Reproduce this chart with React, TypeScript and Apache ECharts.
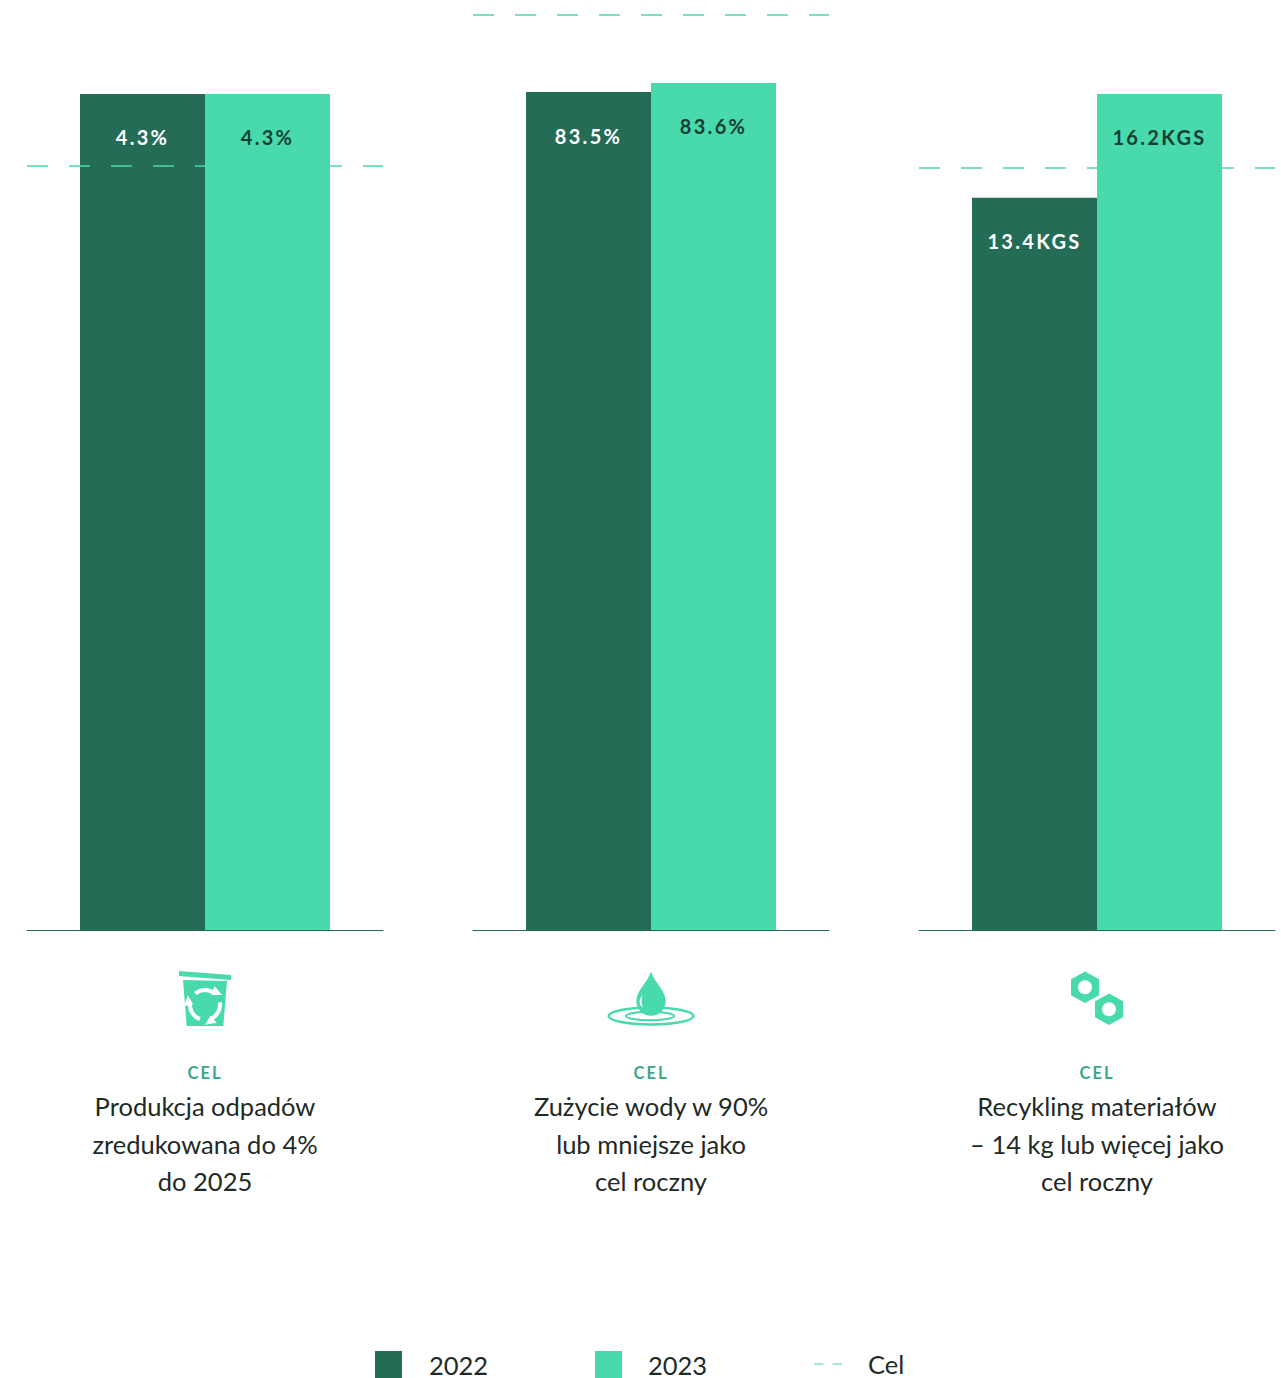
import React, { useEffect, useRef } from "react";
import * as echarts from "echarts";

const categories = ["Produkcja odpadów", "Zużycie wody", "Recykling materiałów"];
const values2022 = [4.3, 83.5, 13.4];
const values2023 = [4.3, 83.6, 16.2];
const targets = [4, 90, 14];
const units = ["%", "%", "KGS"];
const captionLabel = "CEL";
const captions = [
  ["Produkcja odpadów", "zredukowana do 4%", "do 2025"],
  ["Zużycie wody w 90%", "lub mniejsze jako", "cel roczny"],
  ["Recykling materiałów", "– 14 kg lub więcej jako", "cel roczny"],
];

// The published graphic is not drawn to one common scale, so every measure
// in a panel keeps its own hidden axis.
const axisMax2022 = [4.783, 92.67, 17.02];
const axisMax2023 = [4.783, 91.79, 18.02];
const axisMaxTarget = [4.865, 91.44, 17.085];

const DARK = "#256c56";
const LIGHT = "#48d9ac";
const PANEL_LEFT = [27, 473, 919];
const PANEL_WIDTH = 356;
const PLOT_BOTTOM = 930;
const CENTERS = PANEL_LEFT.map((l) => l + PANEL_WIDTH / 2);
const FONT = "Lato, sans-serif";

const DROP =
  "M651 971.5C648 982 636 991 636.3 1001A14.7 14.7 0 0 0 665.7 1001C666 991 654 982 651 971.5Z";
const GLINT =
  "M640.5 998C638.5 1002 640 1006 643 1007.5C641.5 1004 641 1001 642.5 995Z";
echarts.graphic.registerShape("waterDrop", echarts.graphic.extendPath(DROP, {}) as any);
echarts.graphic.registerShape("dropGlint", echarts.graphic.extendPath(GLINT, {}) as any);

function recycleArrow(index: number) {
  return {
    type: "group",
    x: 205,
    y: 1005,
    rotation: (index * 2 * Math.PI) / 3,
    children: [
      {
        type: "arc",
        shape: { cx: 0, cy: 0, r: 15, startAngle: (-130 * Math.PI) / 180, endAngle: (-52 * Math.PI) / 180 },
        style: { stroke: "#fff", lineWidth: 4, fill: "none" },
      },
      { type: "polygon", shape: { points: [[9.5, -19], [17, -10], [6.5, -10]] }, style: { fill: "#fff" } },
    ],
  };
}

function hexNut(cx: number, cy: number) {
  const pts = [[0, -15.8], [14, -8], [14, 8], [0, 15.8], [-14, 8], [-14, -8]].map(([x, y]) => [cx + x, cy + y]);
  return [
    { type: "polygon", shape: { points: pts }, style: { fill: LIGHT } },
    { type: "circle", shape: { cx, cy, r: 7 }, style: { fill: "#fff" } },
  ];
}

const icons: any[] = [
  { type: "polygon", shape: { points: [[179, 971], [231, 975], [231, 980], [179, 976]] }, style: { fill: LIGHT } },
  { type: "polygon", shape: { points: [[183, 980], [227, 981], [223.3, 1026], [186.7, 1026]] }, style: { fill: LIGHT } },
  recycleArrow(0),
  recycleArrow(1),
  recycleArrow(2),
  { type: "ellipse", shape: { cx: 651, cy: 1016, rx: 42.3, ry: 8.5 }, style: { fill: "none", stroke: LIGHT, lineWidth: 2.5 } },
  { type: "ellipse", shape: { cx: 650, cy: 1016, rx: 24, ry: 4.3 }, style: { fill: "none", stroke: LIGHT, lineWidth: 2 } },
  { type: "waterDrop", style: { fill: LIGHT } },
  { type: "dropGlint", style: { fill: "#fff" } },
  ...hexNut(1085, 987.3),
  ...hexNut(1109, 1009.3),
];

const captionTexts: any[] = CENTERS.flatMap((cx, p) => [
  {
    type: "text",
    x: cx,
    y: 1072.5,
    style: { text: captionLabel, fill: "#3aa884", font: `700 16.5px ${FONT}`, align: "center", verticalAlign: "middle" },
  },
  ...captions[p].map((line, i) => ({
    type: "text",
    x: cx,
    y: 1106 + i * 37.5,
    style: { text: line, fill: "#1e2a26", font: `400 25.5px ${FONT}`, align: "center", verticalAlign: "middle" },
  })),
]);

function barLabel(color: string, unit: string) {
  return {
    show: true,
    position: "insideTop" as const,
    distance: 33.5,
    formatter: (p: any) => `${p.value}${unit}`,
    color,
    fontFamily: FONT,
    fontWeight: 700,
    fontSize: 20,
  };
}

function legendEntry(name: string, left: number, textGap: number, icon: string, w = 27, h = 27) {
  return {
    data: [{ name, icon }],
    left,
    top: 1351,
    orient: "horizontal",
    padding: 0,
    itemWidth: w,
    itemHeight: h,
    selectedMode: false,
    textStyle: { color: "#1e2a26", fontFamily: FONT, fontSize: 25.5, padding: [0, 0, 0, textGap] },
  };
}

function buildOption() {
  const grid = PANEL_LEFT.map((left) => ({ left, width: PANEL_WIDTH, top: 0, height: PLOT_BOTTOM }));
  const xAxis = categories.map((c, p) => ({
    type: "category",
    gridIndex: p,
    data: [c],
    axisTick: { show: false },
    axisLabel: { show: false },
    axisLine: { show: true, lineStyle: { color: DARK, width: 1 } },
  }));
  const yAxis = categories.flatMap((_, p) =>
    [axisMax2022[p], axisMax2023[p], axisMaxTarget[p]].map((max) => ({
      type: "value",
      gridIndex: p,
      min: 0,
      max,
      show: false,
    }))
  );
  const series = categories.flatMap((_, p) => [
    {
      name: "2022",
      type: "bar",
      xAxisIndex: p,
      yAxisIndex: 3 * p,
      data: [values2022[p]],
      barWidth: 125,
      barGap: "0%",
      z: 2,
      itemStyle: { color: DARK },
      label: barLabel("#ffffff", units[p]),
      silent: true,
    },
    {
      name: "Cel",
      type: "line",
      xAxisIndex: p,
      yAxisIndex: 3 * p + 2,
      data: [],
      z: 3,
      itemStyle: { color: LIGHT },
      lineStyle: { color: LIGHT },
      silent: true,
      markLine: {
        silent: true,
        symbol: "none",
        z: 3,
        label: { show: false },
        lineStyle: { color: LIGHT, width: 1.5, type: [21, 21], opacity: 1 },
        data: [{ yAxis: targets[p] }],
      },
    },
    {
      name: "2023",
      type: "bar",
      xAxisIndex: p,
      yAxisIndex: 3 * p + 1,
      data: [values2023[p]],
      barWidth: 125,
      barGap: "0%",
      z: 4,
      itemStyle: { color: LIGHT },
      label: barLabel("#163f33", units[p]),
      silent: true,
    },
  ]);
  return {
    animation: false,
    backgroundColor: "#ffffff",
    grid,
    xAxis,
    yAxis,
    series,
    legend: [
      legendEntry("2022", 375, 22, "rect"),
      legendEntry("2023", 595, 21, "rect"),
      legendEntry("Cel", 814, 21, "path://M0 0H9.5V1H0ZM18.5 0H28V1H18.5Z", 28, 1.5),
    ],
    graphic: { elements: [...icons, ...captionTexts] },
  };
}

export default function App() {
  const ref = useRef<HTMLDivElement>(null);
  useEffect(() => {
    if (!ref.current) return;
    const chart = echarts.init(ref.current, undefined, { renderer: "svg" });
    chart.setOption(buildOption() as any);
    // Tracking on the value labels and the small caption headings.
    ref.current.querySelectorAll("text").forEach((t) => {
      const s = t.textContent || "";
      if (/^[\d.]+(%|KGS)$/.test(s)) t.style.letterSpacing = "2.3px";
      if (s === captionLabel) t.style.letterSpacing = "2px";
    });
    return () => chart.dispose();
  }, []);
  return <div ref={ref} style={{ position: "absolute", left: 0, top: 0, width: 1281, height: 1378 }} />;
}
